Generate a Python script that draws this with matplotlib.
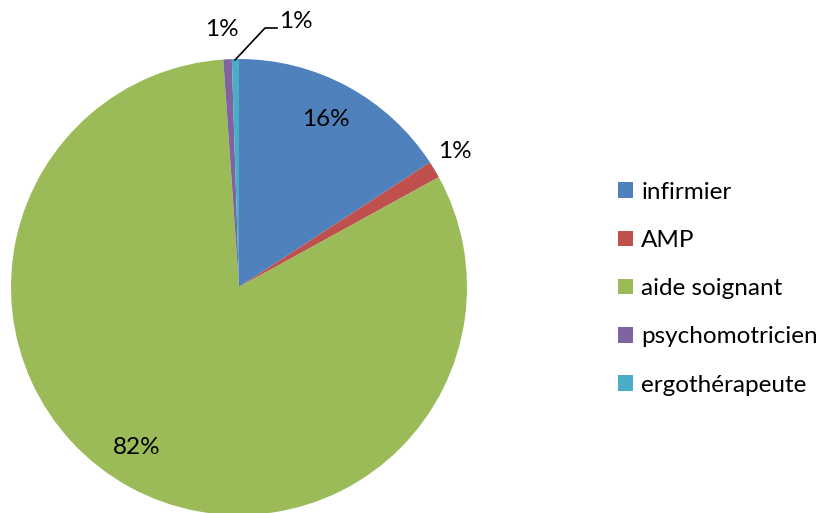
import matplotlib.pyplot as plt

# values (percent)
categories = ["infirmier", "AMP", "aide soignant", "psychomotricien", "ergothérapeute"]
shares = [15.8, 1.2, 81.9, 0.6, 0.5]
labels = ["16%", "1%", "82%", "1%", "1%"]
colors = ["#4F81BD", "#C0504D", "#9BBB59", "#8064A2", "#4BACC6"]

plt.rcParams["font.family"] = ["Lato", "DejaVu Sans"]

W, H = 824, 513
fig = plt.figure(figsize=(W / 100, H / 100), dpi=100)
ax = fig.add_axes([0, 0, 1, 1])

cx, cy, r = 239, H - 287, 228
wedges, _ = ax.pie(shares, colors=colors, startangle=90, counterclock=False,
                   center=(cx, cy), radius=r, frame=True,
                   wedgeprops=dict(linewidth=0))
ax.set_xlim(0, W)
ax.set_ylim(0, H)
ax.set_aspect("equal")
ax.axis("off")

# data labels (Excel-style placement)
fs = 17.5
label_pos = [(326, 120), (455, 152), (137, 447), (222, 30), (296, 22)]
for txt, (x, y) in zip(labels, label_pos):
    ax.text(x, H - y, txt, fontsize=fs, ha="center", va="center", color="black")

# leader line for the ergothérapeute label
ax.plot([235, 265, 277], [H - 60, H - 28, H - 28], color="black", lw=1.2)

leg = ax.legend(wedges, categories, loc="upper left", bbox_to_anchor=(608 / W, 1 - 172 / H),
                bbox_transform=fig.transFigure, frameon=False, fontsize=fs,
                handlelength=0.62, handleheight=0.62, handletextpad=0.35,
                labelspacing=1.12, borderaxespad=0)

fig.savefig("out.png", dpi=100)
